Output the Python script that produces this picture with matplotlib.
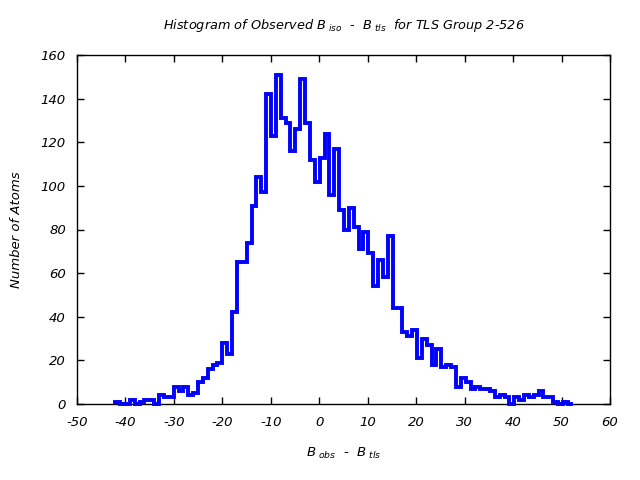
import numpy as np
import matplotlib
matplotlib.use("Agg")
import matplotlib.pyplot as plt

# Histogram data (94 bins from -42.1 to 52.3)
bin_first_edge = -42.1
bin_last_edge = 52.3
counts = [1, 0, 0, 2, 0, 1, 2, 2, 0, 4,
          3, 3, 8, 6, 8, 4, 5, 10, 12, 16,
          18, 19, 28, 23, 42, 65, 65, 74, 91, 104,
          97, 142, 123, 151, 131, 129, 116, 126, 149, 129,
          112, 102, 113, 124, 96, 117, 89, 80, 90, 81,
          71, 79, 69, 54, 66, 58, 77, 44, 44, 33,
          31, 34, 21, 30, 27, 18, 25, 17, 18, 17,
          8, 12, 10, 7, 8, 7, 7, 6, 3, 4,
          3, 0, 3, 2, 4, 3, 4, 6, 3, 3,
          1, 0, 1, 0]
x_ticks = list(range(-50, 61, 10))
y_ticks = list(range(0, 161, 20))

title = r"Histogram of Observed $B_{\ iso}$  -  $B_{\ tls}$  for TLS Group 2-526"
xlabel = r"$B_{\ obs}$  -  $B_{\ tls}$"
ylabel = "Number of Atoms"

plt.rcParams['font.family'] = ['DejaVu Sans']
plt.rcParams['axes.unicode_minus'] = False
plt.rcParams['mathtext.fontset'] = 'dejavusans'
plt.rcParams['mathtext.default'] = 'it'

fig = plt.figure(figsize=(6.4, 4.8), dpi=100)
ax = fig.add_axes([77/640, 1-404/480, (610-77)/640, (404-55)/480])

edges = np.linspace(bin_first_edge, bin_last_edge, len(counts) + 1)
ax.stairs(counts, edges, color=(0, 0, 1), linewidth=2.8, zorder=3, clip_on=False)

ax.set_xlim(-50, 60)
ax.set_ylim(0, 160)
ax.set_xticks(x_ticks)
ax.set_yticks(y_ticks)
ax.tick_params(direction='in', top=True, right=True, length=5, width=1,
               labelsize=9.5)
ax.tick_params(axis='x', pad=9)
ax.tick_params(axis='y', pad=8)
for lab in ax.get_xticklabels() + ax.get_yticklabels():
    lab.set_fontstyle('italic')
for s in ax.spines.values():
    s.set_linewidth(1)

ax.set_title(title, fontsize=9.3, style='italic', pad=19)
ax.set_xlabel(xlabel, fontsize=9.5, style='italic', labelpad=12)
ax.set_ylabel(ylabel, fontsize=9.5, style='italic', labelpad=13)

fig.savefig("out.png", dpi=100)
